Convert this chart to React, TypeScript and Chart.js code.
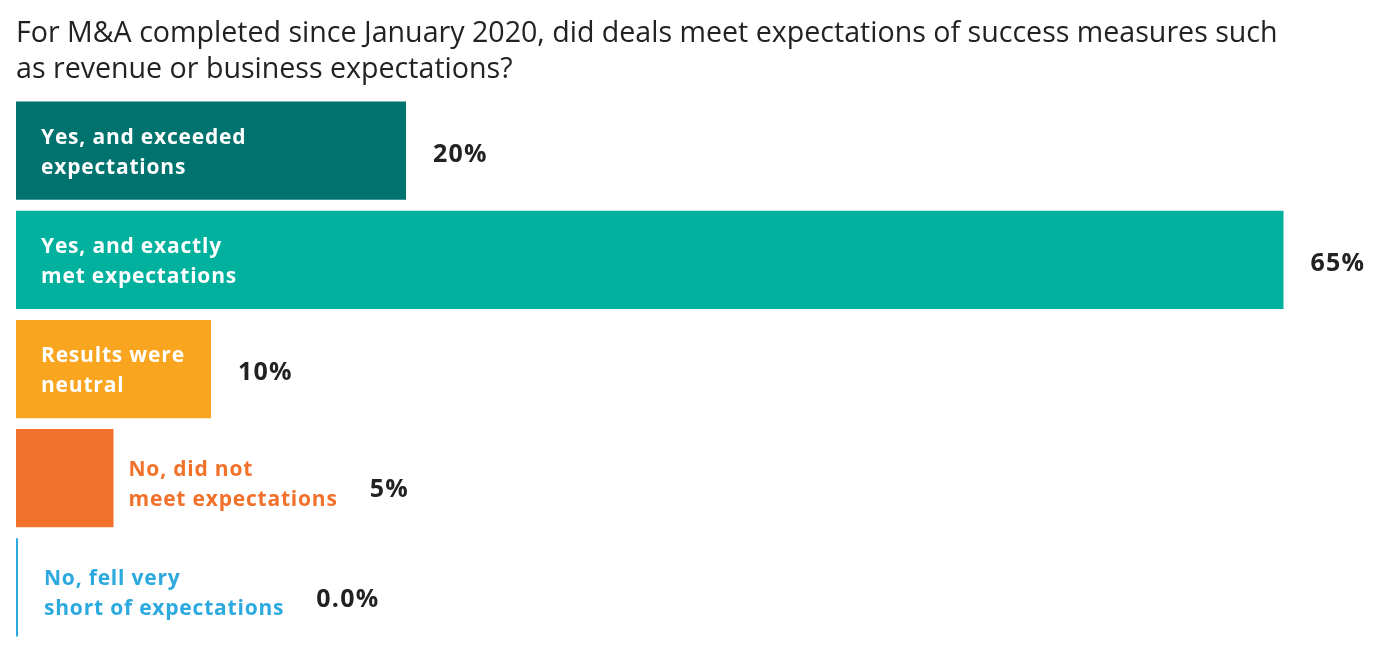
import React, { useEffect, useRef } from "react";
import { Chart, registerables } from "chart.js";

Chart.register(...registerables);

const titleLines = [
  "For M&A completed since January 2020, did deals meet expectations of success measures such",
  "as revenue or business expectations?",
];
const categories = [
  ["Yes, and exceeded", "expectations"],
  ["Yes, and exactly", "met expectations"],
  ["Results were", "neutral"],
  ["No, did not", "meet expectations"],
  ["No, fell very", "short of expectations"],
];
const values = [20, 65, 10, 5, 0];
const valueLabels = ["20%", "65%", "10%", "5%", "0.0%"];
const barColors = ["#00736F", "#00B29E", "#F9A51F", "#F1712B", "#2CA9DF"];

const FONT = "'Open Sans', Lato, sans-serif";

const labelPlugin = {
  id: "barLabels",
  afterDatasetsDraw(chart: any) {
    const ctx = chart.ctx;
    const meta = chart.getDatasetMeta(0);
    const left = chart.chartArea.left;
    ctx.save();
    meta.data.forEach((bar: any, i: number) => {
      const lines = categories[i];
      const barEnd = bar.x;
      const barW = barEnd - bar.base;
      ctx.font = `bold 21px ${FONT}`;
      ctx.letterSpacing = "0.8px";
      const textW = Math.max(...lines.map((l) => ctx.measureText(l).width));
      const inside = textW + 32 <= barW;
      const lh = 30;
      let labelX: number;
      let valueX: number;
      let labelCenter: number;
      if (inside) {
        labelX = left + 25;
        ctx.fillStyle = "#ffffff";
        valueX = barEnd + 27;
        labelCenter = bar.y + 2;
      } else {
        labelX = Math.max(barEnd + 15, left + 28);
        ctx.fillStyle = barColors[i];
        valueX = labelX + textW + 32;
        labelCenter = bar.y + 7;
      }
      const y0 = labelCenter - lh / 2;
      ctx.textAlign = "left";
      ctx.textBaseline = "middle";
      lines.forEach((l, k) => ctx.fillText(l, labelX, y0 + k * lh));
      ctx.fillStyle = "#222222";
      ctx.font = `bold 25px ${FONT}`;
      ctx.letterSpacing = "1.2px";
      ctx.fillText(valueLabels[i], valueX, inside ? bar.y + 4 : labelCenter + 5);
    });
    ctx.restore();
  },
};

export default function App() {
  const ref = useRef<HTMLCanvasElement>(null);
  useEffect(() => {
    if (!ref.current) return;
    const chart = new Chart(ref.current, {
      type: "bar",
      data: {
        labels: categories.map((c) => c.join(" ")),
        datasets: [
          {
            data: values,
            backgroundColor: barColors,
            borderWidth: 0,
            minBarLength: 2,
            barPercentage: 0.9,
            categoryPercentage: 1,
          },
        ],
      },
      options: {
        indexAxis: "y",
        animation: false,
        responsive: false,
        layout: { padding: { left: 8, right: 34, top: 0, bottom: 6 } },
        scales: {
          x: { display: false, min: 0, max: 68 },
          y: { display: false },
        },
        plugins: {
          legend: { display: false },
          tooltip: { enabled: false },
          title: {
            display: true,
            text: titleLines,
            align: "start",
            color: "#222222",
            font: { family: FONT, size: 28.6, weight: "normal", lineHeight: 1.26 },
            padding: { top: 8, bottom: 8 },
          },
        },
      },
      plugins: [labelPlugin],
    });
    return () => chart.destroy();
  }, []);
  return (
    <div style={{ width: 1368, height: 640 }}>
      <canvas ref={ref} width={1368} height={640} style={{ display: "block" }} />
    </div>
  );
}
